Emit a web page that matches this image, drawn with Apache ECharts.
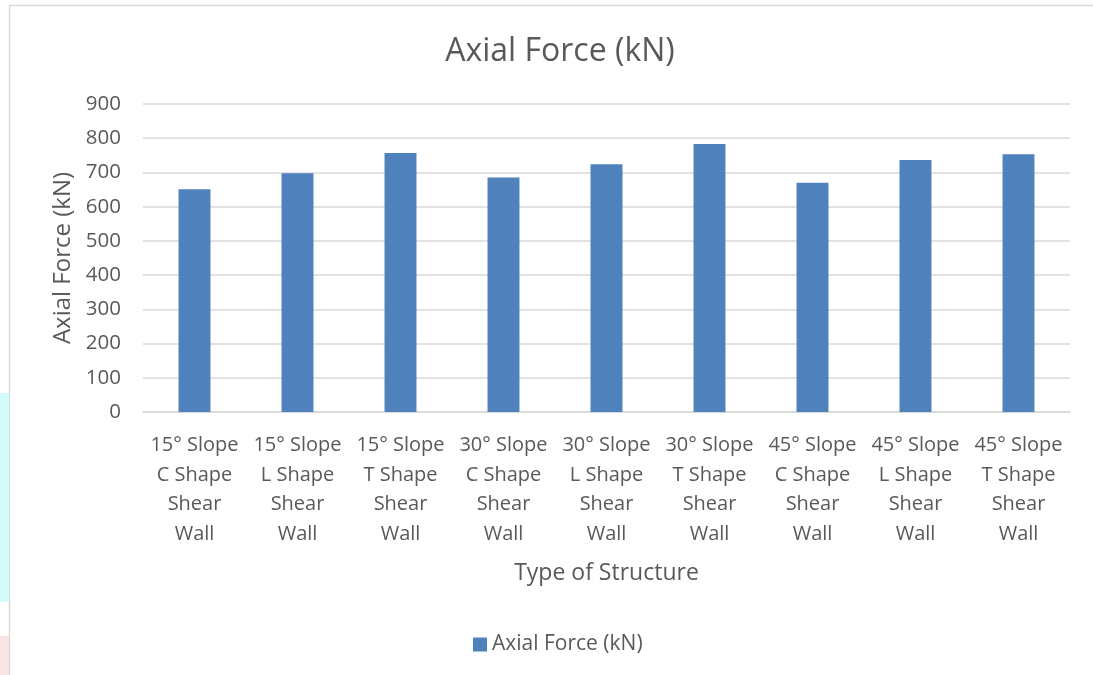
<!DOCTYPE html>
<html>
<head>
<meta charset="utf-8">
<script src="https://cdn.jsdelivr.net/npm/echarts@6/dist/echarts.min.js"></script>
<style>
  html, body { margin: 0; padding: 0; background: #fff; }
  #chart { width: 1093px; height: 675px; }
</style>
</head>
<body>
<div id="chart"></div>
<script>
// 数据
const categories = [
  '15° Slope\nC Shape\nShear\nWall',
  '15° Slope\nL Shape\nShear\nWall',
  '15° Slope\nT Shape\nShear\nWall',
  '30° Slope\nC Shape\nShear\nWall',
  '30° Slope\nL Shape\nShear\nWall',
  '30° Slope\nT Shape\nShear\nWall',
  '45° Slope\nC Shape\nShear\nWall',
  '45° Slope\nL Shape\nShear\nWall',
  '45° Slope\nT Shape\nShear\nWall'
];
const axialForce = [651, 698, 757, 685, 724, 783, 670, 736, 753];
const seriesName = 'Axial Force (kN)';

const textColor = '#595959';
const fontFamily = '"Open Sans", Lato, sans-serif';

const chart = echarts.init(document.getElementById('chart'));

const option = {
  animation: false,
  backgroundColor: '#fff',
  textStyle: { fontFamily: fontFamily, color: textColor },
  graphic: [
    // 左侧页面残留色块
    { type: 'rect', shape: { x: 0, y: 393, width: 9, height: 209 }, style: { fill: '#d4fbfb' } },
    { type: 'rect', shape: { x: 0, y: 636, width: 9, height: 39 }, style: { fill: '#fde4e4' } },
    // 外边框
    {
      type: 'rect',
      shape: { x: 9.5, y: 5.5, width: 1100, height: 700 },
      style: { fill: '#fff', stroke: '#d9d9d9', lineWidth: 1.5 },
      z: -1
    }
  ],
  title: {
    text: 'Axial Force (kN)',
    left: 555,
    top: 31,
    textAlign: 'center',
    textStyle: { fontSize: 32, fontWeight: 'normal', color: textColor, fontFamily: fontFamily }
  },
  legend: {
    data: [seriesName],
    bottom: 15,
    left: 468,
    icon: 'rect',
    itemWidth: 14,
    itemHeight: 14,
    itemGap: 6,
    textStyle: { fontSize: 21, color: textColor, fontFamily: fontFamily }
  },
  grid: {
    left: 143,
    right: 23,
    top: 104,
    bottom: 263,
    containLabel: false
  },
  xAxis: {
    type: 'category',
    data: categories,
    name: 'Type of Structure',
    nameLocation: 'middle',
    nameGap: 150,
    nameTextStyle: { fontSize: 23, color: textColor, fontFamily: fontFamily },
    axisLine: { lineStyle: { color: '#d9d9d9', width: 1.5 } },
    axisTick: { show: false },
    axisLabel: {
      interval: 0,
      margin: 19,
      fontSize: 20,
      lineHeight: 29.5,
      color: textColor,
      fontFamily: fontFamily
    }
  },
  yAxis: {
    type: 'value',
    min: 0,
    max: 900,
    interval: 100,
    name: 'Axial Force (kN)',
    nameLocation: 'middle',
    nameGap: 68,
    nameTextStyle: { fontSize: 24, color: textColor, fontFamily: fontFamily },
    axisLine: { show: false },
    axisTick: { show: false },
    axisLabel: { margin: 22, fontSize: 20.5, color: textColor, fontFamily: fontFamily },
    splitLine: { lineStyle: { color: '#d9d9d9', width: 1.5 } }
  },
  series: [
    {
      name: seriesName,
      type: 'bar',
      data: axialForce,
      barWidth: '31%',
      itemStyle: { color: '#4f81bd' }
    }
  ]
};

chart.setOption(option);
window.addEventListener('resize', () => chart.resize());
</script>
</body>
</html>
